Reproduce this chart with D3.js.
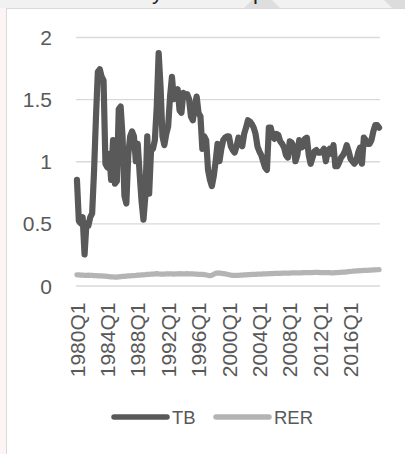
<!DOCTYPE html>
<html><head><meta charset="utf-8">
<script src="https://cdn.jsdelivr.net/npm/d3@7"></script>
<style>html,body{margin:0;padding:0;background:#fff;}svg{display:block;}</style>
</head><body>
<svg id="c" width="405" height="454"></svg>
<script>
const startYear = 1980, endYear = 2019;
const categories = [];
for (let y = startYear; y <= endYear; y++) for (let q = 1; q <= 4; q++) categories.push(y + "Q" + q);
const tickLabels = ["1980Q1","1984Q1","1988Q1","1992Q1","1996Q1","2000Q1","2004Q1","2008Q1","2012Q1","2016Q1"];
const yTicks = [0, 0.5, 1, 1.5, 2];
const seriesNames = ["TB", "RER"];
const TB = [
0.85,0.52,0.50,0.55,0.25,0.50,0.48,0.55,0.58,0.92,
1.35,1.72,1.74,1.68,1.65,0.98,0.95,1.06,0.85,1.17,
0.82,0.84,1.42,1.44,1.20,0.72,0.66,1.05,1.20,1.24,
1.20,1.00,1.14,0.90,0.68,0.53,0.72,1.20,0.74,1.09,
1.10,1.17,1.44,1.87,1.60,1.20,1.13,1.22,1.28,1.52,
1.68,1.50,1.55,1.58,1.41,1.39,1.55,1.52,1.54,1.50,
1.36,1.33,1.45,1.52,1.39,1.36,1.10,1.20,1.17,0.93,
0.85,0.80,0.88,1.00,1.14,1.00,1.10,1.17,1.19,1.20,
1.20,1.12,1.09,1.07,1.12,1.19,1.15,1.12,1.22,1.27,
1.33,1.32,1.30,1.27,1.22,1.12,1.08,1.05,1.00,0.95,
0.93,1.27,1.27,1.20,1.18,1.22,1.21,1.16,1.14,1.11,
1.05,1.03,1.16,1.15,1.12,1.00,1.05,1.17,1.11,1.12,
1.18,1.19,1.05,0.98,1.03,1.08,1.09,1.07,1.07,1.08,
1.10,1.00,1.08,1.10,1.06,1.13,0.96,0.96,0.99,1.03,
1.05,1.08,1.13,1.08,1.02,1.00,0.98,1.00,1.07,1.11,
0.98,1.19,1.17,1.14,1.14,1.17,1.24,1.29,1.29,1.27];
const RER = [
0.085,0.086,0.084,0.083,0.082,0.082,0.083,0.082,0.081,0.080,
0.079,0.078,0.077,0.078,0.076,0.075,0.073,0.072,0.070,0.069,
0.068,0.068,0.070,0.072,0.073,0.074,0.076,0.077,0.078,0.079,
0.080,0.081,0.083,0.084,0.085,0.086,0.087,0.089,0.090,0.091,
0.092,0.094,0.095,0.093,0.092,0.091,0.092,0.093,0.094,0.094,
0.093,0.092,0.093,0.094,0.095,0.094,0.093,0.094,0.095,0.094,
0.094,0.093,0.092,0.091,0.090,0.089,0.090,0.088,0.085,0.082,
0.080,0.082,0.090,0.098,0.101,0.100,0.098,0.096,0.094,0.090,
0.087,0.084,0.082,0.081,0.081,0.082,0.083,0.084,0.085,0.086,
0.087,0.088,0.089,0.090,0.090,0.091,0.092,0.092,0.093,0.094,
0.094,0.095,0.096,0.096,0.097,0.097,0.098,0.098,0.099,0.099,
0.100,0.100,0.100,0.101,0.101,0.101,0.102,0.102,0.102,0.103,
0.103,0.103,0.104,0.104,0.104,0.105,0.105,0.105,0.104,0.104,
0.104,0.103,0.103,0.103,0.102,0.102,0.103,0.104,0.105,0.106,
0.107,0.108,0.110,0.112,0.113,0.115,0.116,0.117,0.118,0.120,
0.120,0.121,0.122,0.122,0.123,0.124,0.125,0.126,0.127,0.128];
const colors = {TB: "#595959", RER: "#b4b4b4"};

const svg = d3.select("#c");
const FONT = "'Liberation Sans', Arial, sans-serif";
const TXT = "#595959";

// page background / frame
svg.append("rect").attr("x",0).attr("y",0).attr("width",405).attr("height",454).attr("fill","#fdf5f5");
svg.append("rect").attr("x",0).attr("y",0).attr("width",405).attr("height",8).attr("fill","#f0f1f0");
svg.append("polygon").attr("points","252,0 272,0 280,8 244,8").attr("fill","#dedede");
svg.append("polygon").attr("points","384,0 405,0 405,8 392,8").attr("fill","#dcdcdc");
svg.append("text").attr("x",152).attr("y",-1).attr("font-family",FONT).attr("font-size",22).attr("fill","#222").text("y");
svg.append("text").attr("x",253).attr("y",-1).attr("font-family",FONT).attr("font-size",22).attr("fill","#222").text("p");
svg.append("rect").attr("x",6.5).attr("y",8.5).attr("width",405).attr("height",460)
  .attr("fill","#fff").attr("stroke","#d9d9d9").attr("stroke-width",1);

const x = d3.scaleBand().domain(categories).range([76, 380]);
const xc = d => x(d) + x.bandwidth()/2;
const y = d3.scaleLinear().domain([0, 2]).range([285.5, 37]);

// gridlines
const yAxis = d3.axisLeft(y).tickValues(yTicks).tickSize(-(380-76)).tickFormat(d3.format("~g")).tickPadding(24);
const gy = svg.append("g").attr("transform","translate(76,0)").call(yAxis);
gy.select(".domain").remove();
gy.selectAll(".tick line").attr("stroke","#d9d9d9").attr("stroke-width",1.3);
gy.selectAll(".tick text").attr("font-family",FONT).attr("font-size",21).attr("fill",TXT).attr("x",-24).attr("dy","0.36em");

// x axis labels
const xAxis = d3.axisBottom(x).tickValues(tickLabels).tickSize(0).tickPadding(0);
const gx = svg.append("g").attr("transform","translate(0,285.5)").call(xAxis);
gx.select(".domain").remove();
gx.selectAll(".tick text")
  .attr("font-family",FONT).attr("font-size",21).attr("fill",TXT)
  .attr("transform","rotate(-90)").attr("text-anchor","end")
  .attr("x",-17).attr("y",0).attr("dy","0.36em");

// lines
const series = {TB, RER};
const line = d3.line().x((d,i) => xc(categories[i])).y(d => y(d)).curve(d3.curveLinear);
["RER","TB"].forEach(name => {
  svg.append("path").datum(series[name]).attr("d", line)
    .attr("fill","none").attr("stroke",colors[name])
    .attr("stroke-width", name === "TB" ? 6.2 : 5.2)
    .attr("stroke-linejoin","round").attr("stroke-linecap","round");
});

// legend
const legend = [{name:"TB", x:114}, {name:"RER", x:216}];
legend.forEach(l => {
  svg.append("line").attr("x1",l.x).attr("x2",l.x+53).attr("y1",417).attr("y2",417)
    .attr("stroke",colors[l.name]).attr("stroke-width",5.5).attr("stroke-linecap","round");
  svg.append("text").attr("x",l.x+58).attr("y",417).attr("dy","0.36em")
    .attr("font-family",FONT).attr("font-size",18.5).attr("fill",TXT).text(l.name);
});
</script>
</body></html>
